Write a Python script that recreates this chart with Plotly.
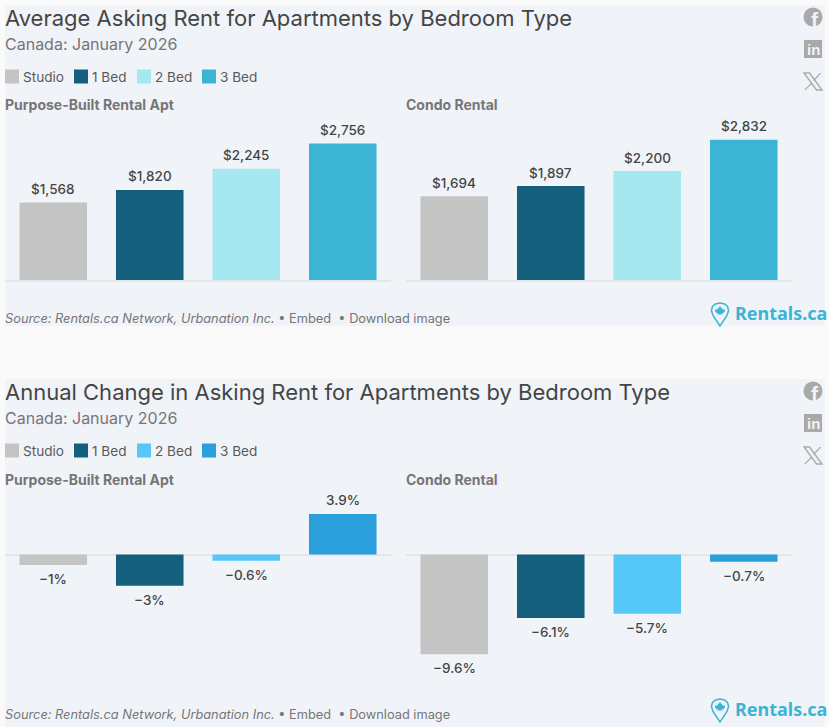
import plotly.graph_objects as go

W, H = 829, 727

categories = ["Studio", "1 Bed", "2 Bed", "3 Bed"]
rent_purpose = [1568, 1820, 2245, 2756]
rent_condo = [1694, 1897, 2200, 2832]
change_purpose = [-1, -3, -0.6, 3.9]
change_condo = [-9.6, -6.1, -5.7, -0.7]
colors_top = ["#c4c4c4", "#14607c", "#a5e8f0", "#3cb4d4"]
colors_bottom = ["#c4c4c4", "#14607c", "#55c8f8", "#2a9fdc"]

title_top = "Average Asking Rent for Apartments by Bedroom Type"
title_bottom = "Annual Change in Asking Rent for Apartments by Bedroom Type"
subtitle = "Canada: January 2026"
panel_names = ["Purpose-Built Rental Apt", "Condo Rental"]

FONT = "Inter"
DARK = "#454545"
GREY = "#777576"
PANEL = "#f0f4f9"
AXIS = "#e3e7ea"
ICON = "#a9a9a9"
LOGO = "#3cb4d4"


def fx(px):
    return px / W


def fy(py):
    return 1 - py / H


def money(v):
    return f"${v:,}"


def pct(v):
    return f"{v:g}%".replace("-", "\u2212")


def rev(*pairs):
    pts = [f"{fx(a):.5f},{fy(b):.5f}" for a, b in pairs]
    return "M" + "L".join(pts) + "Z"


fig = go.Figure()
shapes = []
annotations = []

# values, labels, colours, x pixel span, y pixel span, y range
panels = [
    (rent_purpose, [money(v) for v in rent_purpose], colors_top, (5, 391), (100, 280), (0, 180 / 0.0495)),
    (rent_condo, [money(v) for v in rent_condo], colors_top, (406, 792), (100, 280), (0, 180 / 0.0495)),
    (change_purpose, [pct(v) for v in change_purpose], colors_bottom, (5, 391), (500.5, 680.5), (-126 / 10.4, 54 / 10.4)),
    (change_condo, [pct(v) for v in change_condo], colors_bottom, (406, 792), (500.5, 680.5), (-126 / 10.4, 54 / 10.4)),
]

layout_axes = {}
for i, (vals, labels, cols, xs, ys, yr) in enumerate(panels, start=1):
    suffix = "" if i == 1 else str(i)
    fig.add_trace(go.Bar(
        x=categories, y=vals, customdata=labels, marker=dict(color=cols, line=dict(width=0)),
        width=0.7, cliponaxis=False,
        xaxis=f"x{suffix}", yaxis=f"y{suffix}", showlegend=False,
        hovertemplate="%{x}: %{customdata}<extra></extra>",
    ))
    for cat, v, t in zip(categories, vals, labels):
        annotations.append(dict(
            xref=f"x{suffix}", yref=f"y{suffix}", x=cat, y=v, text=t, showarrow=False,
            xanchor="center", yanchor="middle", yshift=13.5 if v >= 0 else -14, borderpad=0,
            font=dict(family=FONT, size=13.5, color=DARK, weight=500),
        ))
    bottom_row = i > 2
    layout_axes[f"xaxis{suffix}"] = dict(
        domain=[fx(xs[0]), fx(xs[1])], range=[-0.5, 3.5], type="category",
        anchor=f"y{suffix}", showgrid=False, showticklabels=False, ticks="",
        zeroline=False, showline=not bottom_row, linecolor=AXIS, linewidth=1.5,
    )
    layout_axes[f"yaxis{suffix}"] = dict(
        domain=[fy(ys[1]), fy(ys[0])], range=list(yr), anchor=f"x{suffix}",
        showgrid=False, showticklabels=False, ticks="", showline=False,
        zeroline=bottom_row, zerolinecolor=AXIS, zerolinewidth=1.5,
    )


def rect(x0, y0, x1, y1, color, layer="below"):
    shapes.append(dict(type="rect", xref="paper", yref="paper", x0=fx(x0), x1=fx(x1),
                       y0=fy(y1), y1=fy(y0), fillcolor=color, line=dict(width=0), layer=layer))


def label(x, y, text, size, color, anchor="left", family=FONT, **kw):
    annotations.append(dict(xref="paper", yref="paper", x=fx(x), y=fy(y), text=text,
                            xanchor=anchor, yanchor="middle", showarrow=False, borderpad=0,
                            font=dict(family=family, size=size, color=color, **kw)))


LEAF = [(0, -5.2), (1.2, -2.9), (2.3, -3.5), (1.9, -0.9), (3.3, -2.1), (3.7, -1.1), (5.2, -1.3),
        (4.6, 0.5), (5.2, 0.9), (2.2, 3.1), (2.5, 4), (0.3, 3.6), (0.3, 5.4), (-0.3, 5.4), (-0.3, 3.6),
        (-2.5, 4), (-2.2, 3.1), (-5.2, 0.9), (-4.6, 0.5), (-5.2, -1.3), (-3.7, -1.1), (-3.3, -2.1),
        (-1.9, -0.9), (-2.3, -3.5), (-1.2, -2.9)]


def header(top, title, legend_colors):
    label(4, top + 13, title, 22, DARK)
    label(4, top + 39, subtitle, 16, GREY)
    lx = [5, 74, 137, 202]
    tx = [22, 91, 154, 219]
    for j, cat in enumerate(categories):
        rect(lx[j], top + 64.5, lx[j] + 14, top + 78.5, legend_colors[j], "above")
        label(tx[j], top + 72, cat, 13.6, "#5a5a5a")
    label(4, top + 100, panel_names[0], 14, GREY, weight=700)
    label(405, top + 100, panel_names[1], 14, GREY, weight=700)
    # social icons
    cy = top + 12
    shapes.append(dict(type="circle", xref="paper", yref="paper", x0=fx(803.5), x1=fx(822.5),
                       y0=fy(cy + 9.5), y1=fy(cy - 9.5), fillcolor=ICON, line=dict(width=0)))
    label(814.5, cy + 2.5, "f", 21, PANEL, anchor="center", family="Liberation Sans", weight=700)
    rect(804, top + 35, 822, top + 53, ICON, "above")
    label(813, top + 44.5, "in", 15, PANEL, anchor="center", family="Liberation Sans", weight=700)
    # X icon
    ox, oy = 804, top + 68
    shapes.append(dict(type="path", xref="paper", yref="paper",
                       path=rev((ox, oy), (ox + 5.5, oy), (ox + 18, oy + 17), (ox + 12.5, oy + 17)),
                       fillcolor="rgba(0,0,0,0)", line=dict(color=ICON, width=1.4)))
    shapes.append(dict(type="path", xref="paper", yref="paper",
                       path=rev((ox + 16, oy), (ox + 17.5, oy), (ox + 10, oy + 8), (ox + 9, oy + 7)),
                       fillcolor=ICON, line=dict(width=0)))
    shapes.append(dict(type="path", xref="paper", yref="paper",
                       path=rev((ox + 7.5, oy + 9.5), (ox + 8.5, oy + 10.5), (ox + 1.5, oy + 17), (ox, oy + 17)),
                       fillcolor=ICON, line=dict(width=0)))


def footer(base):
    label(4, base, "<i>Source: Rentals.ca Network, Urbanation Inc.</i> \u2022 Embed \u00a0\u2022 Download image",
          12.8, GREY)
    px, py = 720, base - 5.5
    pin = [(px, py + 13.5), (px - 7, py + 3), (px - 8.6, py - 2), (px - 7.5, py - 6), (px - 4.5, py - 8.6),
           (px, py - 9.6), (px + 4.5, py - 8.6), (px + 7.5, py - 6), (px + 8.6, py - 2), (px + 7, py + 3)]
    shapes.append(dict(type="path", xref="paper", yref="paper", path=rev(*pin),
                       fillcolor="rgba(0,0,0,0)", line=dict(color=LOGO, width=1.5)))
    leaf = [(px + a, py - 1.8 + b * 0.95) for a, b in LEAF]
    shapes.append(dict(type="path", xref="paper", yref="paper", path=rev(*leaf),
                       fillcolor=LOGO, line=dict(width=0)))
    label(733.5, base - 5.5, "Rentals.ca", 18, LOGO, family="Noto Sans", weight=700)


rect(5, 5, 825, 326, PANEL)
rect(5, 379, 825, 727, PANEL)
header(5, title_top, colors_top)
header(379, title_bottom, colors_bottom)
footer(318)
footer(714)

fig.update_layout(
    width=W, height=H, margin=dict(l=0, r=0, t=0, b=0, pad=0), autosize=False,
    paper_bgcolor="#fafafa", plot_bgcolor="rgba(0,0,0,0)", shapes=shapes, annotations=annotations,
    font=dict(family=FONT), bargap=0.3, **layout_axes,
)

fig.write_html("out.html", config=dict(displayModeBar=False),
               post_script="document.body.style.margin='0';document.body.style.overflow='hidden';")
